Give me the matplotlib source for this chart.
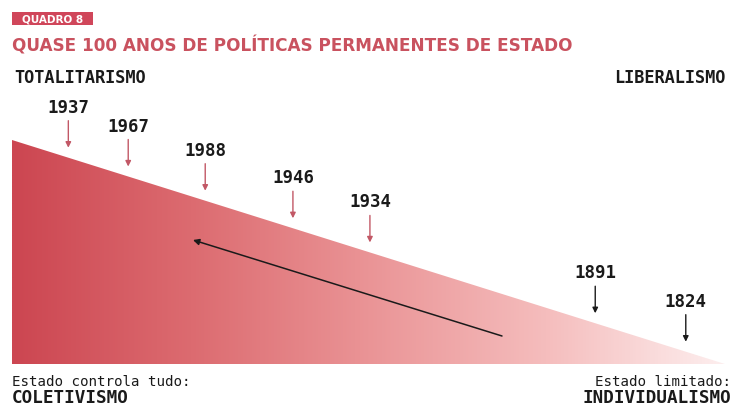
import numpy as np
import matplotlib
matplotlib.use("Agg")
import matplotlib.pyplot as plt
from matplotlib.colors import LinearSegmentedColormap
from matplotlib.patches import Polygon, Rectangle

# ---- data ----
years = ["1937", "1967", "1988", "1946", "1934", "1891", "1824"]
# position on the spectrum: 0 = totalitarismo, 1 = liberalismo
spectrum_pos = [0.079, 0.163, 0.271, 0.394, 0.502, 0.818, 0.945]
statist = [True, True, True, True, True, False, False]

tag = "QUADRO 8"
title = "QUASE 100 ANOS DE POLÍTICAS PERMANENTES DE ESTADO"
left_top = "TOTALITARISMO"
right_top = "LIBERALISMO"
left_bottom = ("Estado controla tudo:", "COLETIVISMO")
right_bottom = ("Estado limitado:", "INDIVIDUALISMO")

RED = "#c25866"
TITLE_RED = "#c9525f"
DARK = "#1a1a1a"

W, H = 733, 406
fig = plt.figure(figsize=(W / 100, H / 100), dpi=100)
ax = fig.add_axes([0, 0, 1, 1])
ax.set_xlim(0, W)
ax.set_ylim(H, 0)
ax.axis("off")

# triangle geometry (pixel layout)
x0, x1 = 12, 725
ytop, ybot = 141, 365

def line_y(x):
    return ytop + (x - x0) * (ybot - ytop) / (x1 - x0)

cmap = LinearSegmentedColormap.from_list(
    "grad",
    [(0.0, "#cc4651"), (0.25, "#dc6b70"), (0.5, "#ea9496"),
     (0.75, "#f5bdbd"), (1.0, "#fdeeee")])
grad = np.linspace(0, 1, 512).reshape(1, -1)
im = ax.imshow(grad, cmap=cmap, extent=[x0, x1, ybot, ytop], aspect="auto",
               interpolation="bilinear", zorder=1)
tri = Polygon([[x0, ytop], [x0, ybot], [x1, ybot]], closed=True,
              facecolor="none", edgecolor="none", transform=ax.transData)
ax.add_patch(tri)
im.set_clip_path(tri)

# tag box
ax.add_patch(Rectangle((12, 13), 81, 13, facecolor="#d0465a", edgecolor="none", zorder=2))
ax.text(52.5, 19.8, tag, color="white", fontsize=7.5, fontweight="bold",
        family="DejaVu Sans", ha="center", va="center", zorder=3)

ax.text(12, 46, title, color=TITLE_RED, fontsize=12.2, fontweight="bold",
        family="DejaVu Sans", ha="left", va="center")

mono = "DejaVu Sans Mono"
ax.text(14, 78, left_top, color=DARK, fontsize=12.2, fontweight="bold",
        family=mono, ha="left", va="center")
ax.text(726, 78, right_top, color=DARK, fontsize=12.2, fontweight="bold",
        family=mono, ha="right", va="center")

ax.text(12, 382, left_bottom[0], color=DARK, fontsize=10.2, family=mono,
        ha="left", va="center")
ax.text(12, 398, left_bottom[1], color=DARK, fontsize=12.7, fontweight="bold",
        family=mono, ha="left", va="center")
ax.text(731, 382, right_bottom[0], color=DARK, fontsize=10.2, family=mono,
        ha="right", va="center")
ax.text(731, 398, right_bottom[1], color=DARK, fontsize=12.7, fontweight="bold",
        family=mono, ha="right", va="center")

# year markers
for yr, p, st in zip(years, spectrum_pos, statist):
    x = x0 + p * (x1 - x0)
    tip = line_y(x) - 10
    tail = tip - 27
    col = RED if st else DARK
    ax.annotate("", xy=(x, tip), xytext=(x, tail),
                arrowprops=dict(arrowstyle="-|>", color=col, lw=1.0,
                                mutation_scale=8, shrinkA=0, shrinkB=0),
                zorder=4)
    ax.text(x, tail - 14, yr, color=DARK, fontsize=12.5, fontweight="bold",
            family=mono, ha="center", va="center", zorder=4)

# long trend arrow
ax.annotate("", xy=(193, 241), xytext=(502, 337),
            arrowprops=dict(arrowstyle="-|>", color=DARK, lw=1.1,
                            mutation_scale=9, shrinkA=0, shrinkB=0),
            zorder=4)

fig.savefig("out.png", dpi=100)
